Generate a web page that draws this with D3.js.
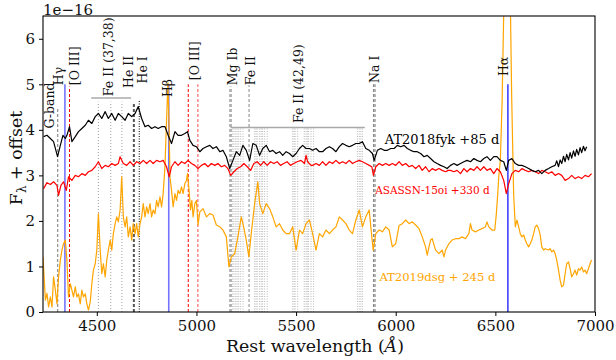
<!DOCTYPE html>
<html lang="en">
<head>
<meta charset="UTF-8">
<title>TDE spectra comparison</title>
<script src="https://d3js.org/d3.v7.min.js"></script>
<style>
  body { margin: 0; background: #fff; }
  svg text { font-family: "DejaVu Serif", serif; fill: #111; }
</style>
</head>
<body>
<svg id="chart"></svg>
<script>
// spectra: [rest wavelength (A), flux + offset (1e-16)]
const fyk = [
  [4233,3.85],[4250,3.88],[4267,3.81],[4283,3.74],[4303,3.41],[4317,3.66],[4330,3.88],[4342,3.81],
  [4350,3.88],[4363,4.07],[4375,3.74],[4392,3.85],[4408,3.96],[4425,4.03],[4442,4.10],[4458,4.21],
  [4475,4.14],[4492,4.29],[4508,4.36],[4525,4.25],[4542,4.40],[4558,4.25],[4575,4.36],[4592,4.21],
  [4608,4.36],[4625,4.29],[4642,4.21],[4658,4.36],[4675,4.29],[4692,4.36],[4708,4.51],[4725,4.25],
  [4742,4.07],[4758,4.10],[4775,4.03],[4792,4.07],[4808,4.03],[4825,4.07],[4842,4.07],[4858,3.88],
  [4875,3.70],[4892,3.96],[4908,3.88],[4925,3.88],[4942,3.92],[4955,3.96],[4967,3.77],[4983,3.66],
  [5000,3.63],[5017,3.52],[5033,3.59],[5050,3.63],[5067,3.66],[5083,3.59],[5100,3.63],[5117,3.52],
  [5133,3.55],[5150,3.41],[5167,3.15],[5183,3.33],[5200,3.52],[5217,3.44],[5233,3.66],[5250,3.55],
  [5267,3.33],[5283,3.70],[5300,3.66],[5317,3.44],[5333,3.59],[5350,3.66],[5367,3.52],[5383,3.55],
  [5400,3.48],[5417,3.52],[5433,3.44],[5450,3.52],[5467,3.48],[5483,3.41],[5500,3.48],[5517,3.59],
  [5533,3.66],[5550,3.59],[5567,3.59],[5583,3.55],[5600,3.59],[5617,3.52],[5633,3.52],[5650,3.59],
  [5667,3.63],[5683,3.59],[5700,3.52],[5717,3.63],[5733,3.70],[5750,3.66],[5767,3.63],[5783,3.66],
  [5800,3.70],[5817,3.70],[5833,3.74],[5850,3.59],[5867,3.55],[5883,3.48],[5892,3.33],[5908,3.55],
  [5925,3.59],[5942,3.55],[5958,3.55],[5975,3.59],[5992,3.59],[6008,3.66],[6025,3.63],[6042,3.66],
  [6058,3.59],[6075,3.55],[6092,3.52],[6108,3.52],[6125,3.48],[6142,3.41],[6158,3.44],[6175,3.37],
  [6192,3.30],[6208,3.26],[6225,3.22],[6242,3.19],[6258,3.15],[6275,3.22],[6292,3.26],[6308,3.22],
  [6325,3.26],[6342,3.30],[6358,3.33],[6375,3.30],[6392,3.37],[6408,3.33],[6425,3.30],[6442,3.37],
  [6458,3.41],[6475,3.33],[6492,3.41],[6508,3.41],[6525,3.33],[6542,3.30],[6555,3.11],[6567,3.33],
  [6583,3.37],[6600,3.26],[6617,3.22],[6633,3.22],[6650,3.19],[6667,3.15],[6683,3.11],[6700,3.08],
  [6717,3.11],[6733,3.04],[6750,3.11],[6767,3.15],[6783,3.19],[6800,3.22],[6808,3.32],[6817,3.19],
  [6825,3.34],[6833,3.26],[6842,3.42],[6850,3.30],[6858,3.46],[6867,3.34],[6875,3.50],[6883,3.38],
  [6892,3.54],[6900,3.42],[6908,3.57],[6917,3.45],[6925,3.61],[6933,3.50],[6942,3.64],[6950,3.54],
  [6958,3.63]
];

const asassn15oi = [
  [4233,2.71],[4250,2.84],[4267,2.80],[4283,2.86],[4300,2.78],[4308,2.56],[4320,2.78],[4333,2.86],
  [4347,2.67],[4358,2.97],[4375,2.89],[4392,3.00],[4408,2.97],[4425,3.04],[4442,3.00],[4458,3.08],
  [4475,3.11],[4492,3.19],[4508,3.30],[4525,3.15],[4542,3.22],[4558,3.19],[4575,3.26],[4592,3.22],
  [4608,3.26],[4617,3.41],[4633,3.26],[4650,3.22],[4667,3.30],[4683,3.22],[4700,3.30],[4717,3.26],
  [4733,3.33],[4750,3.26],[4767,3.33],[4783,3.26],[4800,3.33],[4817,3.30],[4833,3.33],[4850,3.19],
  [4863,2.97],[4875,3.19],[4892,3.30],[4908,3.22],[4925,3.30],[4942,3.26],[4958,3.33],[4975,3.26],
  [4992,3.22],[5008,3.15],[5025,3.22],[5042,3.26],[5058,3.19],[5075,3.26],[5092,3.22],[5108,3.26],
  [5125,3.19],[5142,3.22],[5158,3.15],[5172,3.00],[5188,3.08],[5205,3.15],[5222,3.19],[5238,3.26],
  [5255,3.19],[5272,3.11],[5288,3.26],[5305,3.30],[5322,3.22],[5338,3.30],[5355,3.22],[5372,3.30],
  [5388,3.26],[5405,3.30],[5422,3.22],[5438,3.26],[5455,3.30],[5472,3.22],[5488,3.26],[5505,3.30],
  [5525,3.33],[5542,3.26],[5550,3.44],[5558,3.30],[5575,3.22],[5583,3.22],[5600,3.26],[5617,3.22],
  [5633,3.30],[5650,3.22],[5667,3.30],[5683,3.26],[5700,3.33],[5717,3.26],[5733,3.30],[5750,3.26],
  [5767,3.33],[5783,3.26],[5800,3.30],[5817,3.33],[5833,3.30],[5850,3.26],[5867,3.22],[5880,3.19],
  [5888,3.00],[5900,3.19],[5917,3.26],[5933,3.22],[5950,3.26],[5967,3.22],[5983,3.26],[6000,3.22],
  [6017,3.30],[6033,3.22],[6050,3.26],[6067,3.19],[6083,3.22],[6100,3.15],[6117,3.22],[6133,3.11],
  [6150,3.19],[6167,3.08],[6183,3.15],[6200,3.11],[6217,3.15],[6233,3.11],[6250,3.08],[6263,3.11],
  [6275,3.11],[6292,3.08],[6308,3.11],[6325,3.04],[6342,3.15],[6358,3.08],[6375,3.15],[6392,3.11],
  [6408,3.19],[6425,3.11],[6442,3.19],[6458,3.11],[6475,3.15],[6492,3.04],[6508,3.15],[6525,3.08],
  [6542,2.89],[6555,2.60],[6567,2.82],[6583,3.04],[6600,3.11],[6617,3.08],[6633,3.15],[6650,3.11],
  [6667,3.08],[6683,3.11],[6700,3.08],[6717,3.04],[6733,3.11],[6750,3.08],[6767,3.04],[6783,3.08],
  [6800,3.00],[6817,3.04],[6833,3.00],[6850,2.89],[6867,2.93],[6883,3.00],[6900,2.93],[6917,2.97],
  [6933,2.93],[6950,3.00],[6967,2.97],[6983,3.04]
];

const dsg = [
  [4230,1.21],[4242,0.26],[4250,0.41],[4258,0.11],[4267,0.33],[4275,0.11],[4283,0.77],[4292,0.48],
  [4300,0.18],[4308,0.77],[4317,1.14],[4325,1.36],[4333,1.50],[4342,1.58],[4350,1.14],[4358,0.33],
  [4367,0.62],[4375,0.48],[4383,0.33],[4392,0.55],[4400,0.33],[4408,0.40],[4417,0.18],[4425,0.48],
  [4433,0.33],[4442,0.40],[4450,0.18],[4458,0.04],[4467,0.22],[4475,0.62],[4483,0.92],[4492,1.06],
  [4500,1.36],[4508,2.16],[4517,1.36],[4525,0.84],[4533,1.06],[4542,0.77],[4550,1.14],[4558,1.36],
  [4567,1.58],[4575,1.36],[4583,1.72],[4592,1.94],[4600,2.09],[4608,1.98],[4617,2.24],[4625,2.97],
  [4633,2.09],[4642,1.87],[4650,2.09],[4658,1.65],[4667,1.87],[4675,1.58],[4683,1.94],[4692,1.72],
  [4700,1.94],[4708,1.65],[4717,1.94],[4725,2.09],[4733,2.38],[4742,2.09],[4750,2.31],[4758,2.16],
  [4767,2.38],[4775,2.09],[4783,2.24],[4792,2.16],[4800,2.45],[4808,2.31],[4817,2.53],[4825,2.31],
  [4833,2.60],[4842,3.19],[4850,4.21],[4857,5.03],[4863,3.99],[4867,2.97],[4875,2.67],[4883,2.31],
  [4892,2.60],[4900,2.45],[4908,2.67],[4917,2.60],[4925,2.75],[4933,2.60],[4942,2.82],[4950,2.89],
  [4955,3.04],[4963,2.67],[4970,2.24],[4977,2.45],[4983,2.09],[4992,2.38],[5000,2.45],[5008,1.91],
  [5017,2.20],[5033,2.27],[5050,2.09],[5067,2.16],[5083,2.13],[5100,1.91],[5117,1.87],[5133,1.80],
  [5150,1.65],[5163,0.99],[5175,1.21],[5192,1.28],[5208,1.65],[5225,2.09],[5237,1.87],[5250,1.58],
  [5263,1.21],[5275,1.72],[5292,2.38],[5308,2.86],[5317,2.38],[5333,2.16],[5350,2.38],[5367,2.27],
  [5383,2.09],[5400,1.87],[5417,1.94],[5433,1.80],[5450,1.72],[5467,1.72],[5483,1.87],[5500,1.36],
  [5517,1.80],[5533,1.72],[5550,1.94],[5567,2.02],[5583,1.72],[5600,1.36],[5617,1.72],[5633,1.65],
  [5650,1.80],[5667,1.72],[5683,1.80],[5700,1.87],[5717,2.09],[5733,2.02],[5750,1.94],[5767,1.80],
  [5783,1.72],[5800,2.02],[5817,2.24],[5833,1.87],[5850,2.09],[5867,2.24],[5875,1.87],[5887,1.36],
  [5900,1.72],[5917,1.80],[5933,1.76],[5950,1.87],[5967,1.80],[5983,1.43],[6000,1.50],[6017,1.90],
  [6033,1.94],[6050,2.02],[6067,1.94],[6083,1.98],[6100,1.91],[6117,1.83],[6133,1.65],[6150,1.43],
  [6158,1.25],[6167,1.43],[6175,1.58],[6183,1.61],[6200,1.36],[6217,1.28],[6233,1.36],[6242,1.21],
  [6250,1.36],[6267,1.50],[6283,1.58],[6300,1.61],[6317,1.61],[6333,1.65],[6350,1.61],[6367,1.72],
  [6375,1.94],[6383,1.80],[6400,1.76],[6417,1.80],[6433,1.83],[6450,1.87],[6458,1.98],[6467,1.87],
  [6483,1.80],[6497,1.80],[6505,2.16],[6512,2.60],[6517,2.97],[6525,3.33],[6534,4.65],[6552,9.00],
  [6568,9.00],[6582,4.70],[6592,2.56],[6600,1.87],[6608,2.02],[6617,1.87],[6625,1.72],[6633,1.65],
  [6642,1.69],[6650,1.58],[6658,1.50],[6667,1.43],[6675,1.50],[6683,1.58],[6692,1.72],[6700,1.87],
  [6708,1.91],[6717,1.83],[6725,1.69],[6733,1.43],[6742,1.36],[6750,1.39],[6767,1.36],[6775,1.39],
  [6783,1.32],[6792,1.36],[6800,1.28],[6808,1.14],[6817,0.92],[6825,0.70],[6833,0.55],[6842,0.59],
  [6850,0.84],[6858,1.06],[6867,1.10],[6875,0.95],[6883,0.77],[6892,0.84],[6900,0.92],[6908,0.81],
  [6917,0.95],[6925,0.92],[6933,0.99],[6942,0.88],[6950,0.92],[6958,0.84],[6967,0.95],[6975,1.06],
  [6983,1.14]
];

// line identifications: wavelength and top of the marker (flux units)
const balmerWaves = [4340, 4861, 6563];
const balmerTop = 5.0;
const oiiiWaves = [4363, 4959, 5007];
const oiiiTops = [4.95, 5.0, 5.0];
const gBandWave = 4304, gBandTop = 4.5;
const heIIWave = 4686, heIITop = 4.6;
const heIWave = 4713, heITop = 4.65;
const mgWaves = [5168, 5174], mgTop = 4.95;
const feIIWave = 5264, feIITop = 4.98;
const naWaves = [5889, 5896], naTop = 5.0;
const fe3738Waves = [4508, 4570, 4626];
const fe3738Bar = [4472, 4672], fe3738Level = 4.70;
const fe4249Waves = [5182, 5188, 5197, 5204, 5212, 5222, 5234, 5292, 5299, 5305, 5317, 5325, 5332, 5342, 5355,
                     5483, 5490, 5495, 5508, 5541, 5550, 5556, 5562, 5575, 5588, 5808, 5817, 5825, 5833];
const fe4249Bar = [5171, 5845], fe4249Level = 4.05;

// rotated labels: text, centre wavelength, bottom flux
const lineLabels = [
  ["G-band", 4261, 4.03], ["Hγ", 4306, 4.98], ["[O III]", 4389, 4.98],
  ["Fe II (37,38)", 4561, 4.74], ["He II", 4659, 4.92], ["He I", 4731, 5.02],
  ["Hβ", 4857, 4.72], ["[O III]", 4989, 5.09], ["Mg Ib", 5181, 4.98],
  ["Fe II", 5271, 4.98], ["Fe II (42,49)", 5511, 4.15], ["Na I", 5892, 5.03],
  ["Hα", 6541, 5.18]
];

const xTicks = [4500, 5000, 5500, 6000, 6500, 7000];
const yTicks = [0, 1, 2, 3, 4, 5, 6];

const width = 616, height = 360;
const margin = { top: 16, right: 21, bottom: 48, left: 43 };
const w = width - margin.left - margin.right;
const h = height - margin.top - margin.bottom;

const svg = d3.select("#chart").attr("width", width).attr("height", height);
const g = svg.append("g").attr("transform", `translate(${margin.left},${margin.top})`);

const x = d3.scaleLinear().domain([4230, 7000]).range([0, w]);
const y = d3.scaleLinear().domain([0, 6.5]).range([h, 0]);

svg.append("defs").append("clipPath").attr("id", "plot-clip")
  .append("rect").attr("width", w).attr("height", h);

const marks = g.append("g").attr("clip-path", "url(#plot-clip)");

function vline(wave, top, color, lw, dash, opacity) {
  marks.append("line")
    .attr("x1", x(wave)).attr("x2", x(wave))
    .attr("y1", y(0)).attr("y2", y(top))
    .attr("stroke", color).attr("stroke-width", lw)
    .attr("stroke-dasharray", dash || null)
    .attr("stroke-opacity", opacity == null ? 1 : opacity);
}
function hbar(range, level) {
  marks.append("line")
    .attr("x1", x(range[0])).attr("x2", x(range[1]))
    .attr("y1", y(level)).attr("y2", y(level))
    .attr("stroke", "#aaa").attr("stroke-width", 1.4);
}

vline(gBandWave, gBandTop, "#777", 1, "3,2");
balmerWaves.forEach((d, i) => vline(d, balmerTop, "blue", i === 2 ? 1.2 : 1.6, null, i === 2 ? 1 : 0.55));
oiiiWaves.forEach((d, i) => vline(d, oiiiTops[i], "red", i === 2 ? 1.4 : 1, "3,2", i === 2 ? 0.5 : 1));
vline(heIIWave, heIITop, "#555", 2, "3,2");
vline(heIWave, heITop, "#000", 1, "1,1.5");
fe3738Waves.forEach(d => vline(d, fe3738Level - 0.08, "#888", 0.8, "1,2"));
hbar(fe3738Bar, fe3738Level);
fe4249Waves.forEach(d => vline(d, fe4249Level, "#aaa", 0.8, "1,1.5"));
hbar(fe4249Bar, fe4249Level);
mgWaves.forEach(d => vline(d, mgTop, "#888", 1, "3,2"));
vline(feIIWave, feIITop, "#888", 1, "3,2");
naWaves.forEach(d => vline(d, naTop, "#888", 1.2, "3,2"));

const line = d3.line().x(d => x(d[0])).y(d => y(d[1]));
[[dsg, "orange"], [asassn15oi, "red"], [fyk, "black"]].forEach(([data, color]) => {
  marks.append("path").datum(data)
    .attr("d", line)
    .attr("fill", "none")
    .attr("stroke", color)
    .attr("stroke-width", 1.2)
    .attr("stroke-linejoin", "round");
});

// line id labels
g.selectAll(".lbl").data(lineLabels).enter().append("text")
  .attr("class", "lbl")
  .attr("transform", d => `translate(${x(d[1])},${y(d[2])}) rotate(-90)`)
  .attr("dy", "0.36em")
  .attr("font-size", 12.5)
  .text(d => d[0]);

// object labels
g.append("text").attr("x", x(5945)).attr("y", y(3.70))
  .attr("font-size", 13).style("fill", "#000").text("AT2018fyk +85 d");
g.append("text").attr("x", x(5897)).attr("y", y(2.59))
  .attr("font-size", 10.5).style("fill", "red").text("ASASSN-15oi +330 d");
g.append("text").attr("x", x(5918)).attr("y", y(0.67))
  .attr("font-size", 11.6).style("fill", "orange").text("AT2019dsg + 245 d");

// frame
g.append("rect").attr("width", w).attr("height", h)
  .attr("fill", "none").attr("stroke", "#000").attr("stroke-width", 1.1);

const xAxis = g.append("g").attr("transform", `translate(0,${h})`)
  .call(d3.axisBottom(x).tickValues(xTicks).tickSize(4).tickPadding(4).tickFormat(d3.format("d")));
const yAxis = g.append("g")
  .call(d3.axisLeft(y).tickValues(yTicks).tickSize(4).tickPadding(4).tickFormat(d3.format("d")));
[xAxis, yAxis].forEach(a => {
  a.select(".domain").remove();
  a.selectAll("text").attr("font-family", "DejaVu Serif").attr("font-size", 15).style("fill", "#111");
  a.selectAll("line").attr("stroke", "#000");
});

svg.append("text").attr("x", margin.left).attr("y", 15)
  .attr("font-size", 15).text("1e\u221216");

svg.append("text")
  .attr("x", margin.left + w / 2 - 4).attr("y", 352)
  .attr("text-anchor", "middle").attr("font-size", 17.4)
  .html('Rest wavelength (<tspan font-style="italic">Å</tspan>)');

const yl = svg.append("text")
  .attr("transform", "translate(22,158) rotate(-90)")
  .attr("text-anchor", "middle").attr("font-size", 17.4);
yl.append("tspan").text("F");
yl.append("tspan").attr("font-size", 12).attr("dy", 4).text("λ");
yl.append("tspan").attr("dy", -4).text(" + offset");
</script>
</body>
</html>
